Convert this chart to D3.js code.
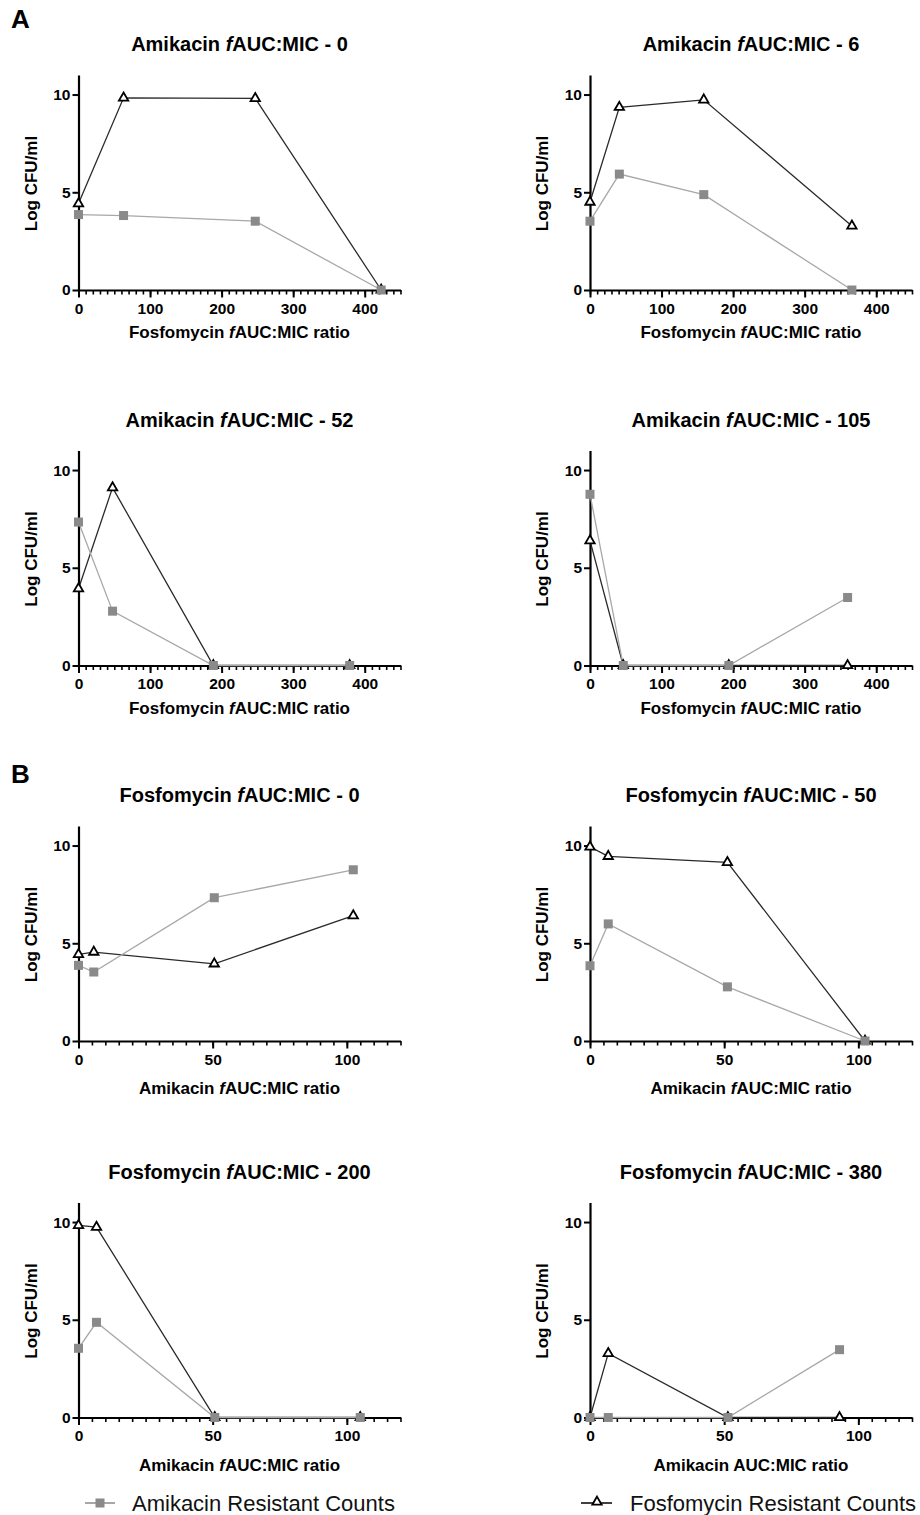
<!DOCTYPE html>
<html><head><meta charset="utf-8">
<script src="https://cdn.jsdelivr.net/npm/d3@7"></script>
<style>
body{margin:0;background:#fff;}
svg{display:block;font-family:"Liberation Sans",Arial,sans-serif;}
</style></head>
<body><svg id="c" width="920" height="1515"></svg>
<script>
// ---- data ----
const panelDrug = ["Amikacin","Amikacin","Amikacin","Amikacin","Fosfomycin","Fosfomycin","Fosfomycin","Fosfomycin"];
const panelLevel = ["0","6","52","105","0","50","200","380"];
const xTitles = ["Fosfomycin","Fosfomycin","Fosfomycin","Fosfomycin","Amikacin","Amikacin","Amikacin","Amikacin"];
const xTitleItalicF = [true,true,true,true,true,true,true,false];
const xMajorA = [0,100,200,300,400];
const xMajorB = [0,50,100];
const yTicks = [0,5,10];
const seriesNames = ["Amikacin Resistant Counts","Fosfomycin Resistant Counts"];

const xVals = [
  [0,63,247,423],
  [0,41,159,366],
  [0,47.6,188.5,379],
  [0,46.5,194,360],
  [0,5.7,50.6,102.4],
  [0,6.8,51.2,102.5],
  [0,6.7,50.8,105],
  [0,6.8,51.4,93]
];
const amiResistant = [
  [3.86,3.81,3.52,0],
  [3.52,5.93,4.88,0],
  [7.34,2.78,0,0],
  [8.76,0,0,3.48],
  [3.87,3.53,7.33,8.76],
  [3.85,5.99,2.77,0],
  [3.54,4.87,0,0],
  [0,0,0,3.47]
];
const fosResistant = [
  [4.42,9.83,9.8,0],
  [4.5,9.35,9.73,3.28],
  [3.93,9.1,0,0],
  [6.39,0,0,0],
  [4.43,4.55,3.95,6.41],
  [9.93,9.45,9.14,0],
  [9.83,9.74,0,0],
  [0,3.28,0,0]
];

// ---- layout ----
const svg = d3.select("#c");
const colX0 = [78.5, 590];
const rowY0 = [290, 665.5, 1041, 1417.5];
const plotW = 322, plotH = 215;
const FONT = '"Liberation Sans",Arial,sans-serif';

svg.append("text").attr("x",11).attr("y",28).attr("font-size",26).attr("font-weight","bold").text("A");
svg.append("text").attr("x",11).attr("y",783).attr("font-size",26).attr("font-weight","bold").text("B");

for (let p=0;p<8;p++){
  const col = p%2, row = Math.floor(p/2);
  const x0 = colX0[col], y0 = rowY0[row];
  const isA = p<4;
  const x = d3.scaleLinear().domain([0, isA?450:120]).range([x0, x0+plotW]);
  const y = d3.scaleLinear().domain([0,11]).range([y0, y0-plotH]);
  const g = svg.append("g");

  // title
  const t = g.append("text").attr("x", x0+plotW/2).attr("y", y0-plotH-24)
    .attr("text-anchor","middle").attr("font-size",20).attr("font-weight","bold");
  t.append("tspan").text(panelDrug[p]+" ");
  t.append("tspan").attr("font-style","italic").text("f");
  t.append("tspan").text("AUC:MIC - "+panelLevel[p]);

  // minor x ticks
  const minorStep = isA?10:5;
  const minor = d3.range(0, (isA?450:120)+0.001, minorStep);
  g.append("g").attr("transform",`translate(0,${y0})`)
    .call(d3.axisBottom(x).tickValues(minor).tickSize(4.5).tickFormat("").tickSizeOuter(0))
    .call(s=>{s.select(".domain").remove(); s.selectAll("line").attr("stroke","#000").attr("stroke-width",1.6);});
  // major x ticks
  const gx = g.append("g").attr("transform",`translate(0,${y0})`)
    .call(d3.axisBottom(x).tickValues(isA?xMajorA:xMajorB).tickSize(7.5).tickSizeOuter(0).tickPadding(5));
  gx.select(".domain").attr("stroke","#000").attr("stroke-width",2.2);
  gx.selectAll("line").attr("stroke","#000").attr("stroke-width",2);
  gx.selectAll("text").attr("font-size",15.5).attr("font-weight","bold").attr("font-family",FONT).attr("fill","#000");

  // y axis
  const gy = g.append("g").attr("transform",`translate(${x0},0)`)
    .call(d3.axisLeft(y).tickValues(yTicks).tickSize(6).tickSizeOuter(0).tickPadding(2));
  gy.select(".domain").attr("stroke","#000").attr("stroke-width",2.2);
  gy.selectAll("line").attr("stroke","#000").attr("stroke-width",2);
  gy.selectAll("text").attr("font-size",15.5).attr("font-weight","bold").attr("font-family",FONT).attr("fill","#000");

  // axis titles
  const xt = g.append("text").attr("x", x0+plotW/2).attr("y", y0+(isA?48:53))
    .attr("text-anchor","middle").attr("font-size",17).attr("font-weight","bold");
  xt.append("tspan").text(xTitles[p]+" ");
  if (xTitleItalicF[p]) xt.append("tspan").attr("font-style","italic").text("f");
  xt.append("tspan").text("AUC:MIC ratio");
  g.append("text").attr("transform",`translate(${x0-42},${y0-plotH/2+1}) rotate(-90)`)
    .attr("text-anchor","middle").attr("font-size",17).attr("font-weight","bold").text("Log CFU/ml");

  const line = d3.line().x(d=>x(d[0])).y(d=>y(d[1]));
  const fos = xVals[p].map((v,i)=>[v,fosResistant[p][i]]);
  const ami = xVals[p].map((v,i)=>[v,amiResistant[p][i]]);

  g.append("path").datum(fos).attr("d",line).attr("fill","none").attr("stroke","#2a2a2a").attr("stroke-width",1.3);
  g.append("path").datum(ami).attr("d",line).attr("fill","none").attr("stroke","#a8a8a8").attr("stroke-width",1.3);

  const tri = d3.symbol().type(d3.symbolTriangle).size(38);
  g.selectAll(".tri").data(fos).join("path")
    .attr("transform",d=>`translate(${x(d[0])},${y(d[1])})`).attr("d",tri)
    .attr("fill","#fff").attr("stroke","#000").attr("stroke-width",1.8);
  g.selectAll(".sq").data(ami).join("rect")
    .attr("x",d=>x(d[0])-4.5).attr("y",d=>y(d[1])-4.5).attr("width",9).attr("height",9)
    .attr("fill","#8a8a8a");
}

// legend
const lg = svg.append("g");
lg.append("line").attr("x1",85).attr("x2",115).attr("y1",1503).attr("y2",1503).attr("stroke","#8a8a8a").attr("stroke-width",1.5);
lg.append("rect").attr("x",95.5).attr("y",1498.5).attr("width",9).attr("height",9).attr("fill","#8a8a8a");
lg.append("text").attr("x",132).attr("y",1511).attr("font-size",22).attr("fill","#111").text(seriesNames[0]);
lg.append("line").attr("x1",581).attr("x2",612).attr("y1",1503).attr("y2",1503).attr("stroke","#000").attr("stroke-width",1.5);
lg.append("path").attr("transform","translate(597,1502)").attr("d",d3.symbol().type(d3.symbolTriangle).size(38)())
  .attr("fill","#fff").attr("stroke","#000").attr("stroke-width",1.8);
lg.append("text").attr("x",630).attr("y",1511).attr("font-size",22).attr("fill","#111").text(seriesNames[1]);
</script></body></html>
